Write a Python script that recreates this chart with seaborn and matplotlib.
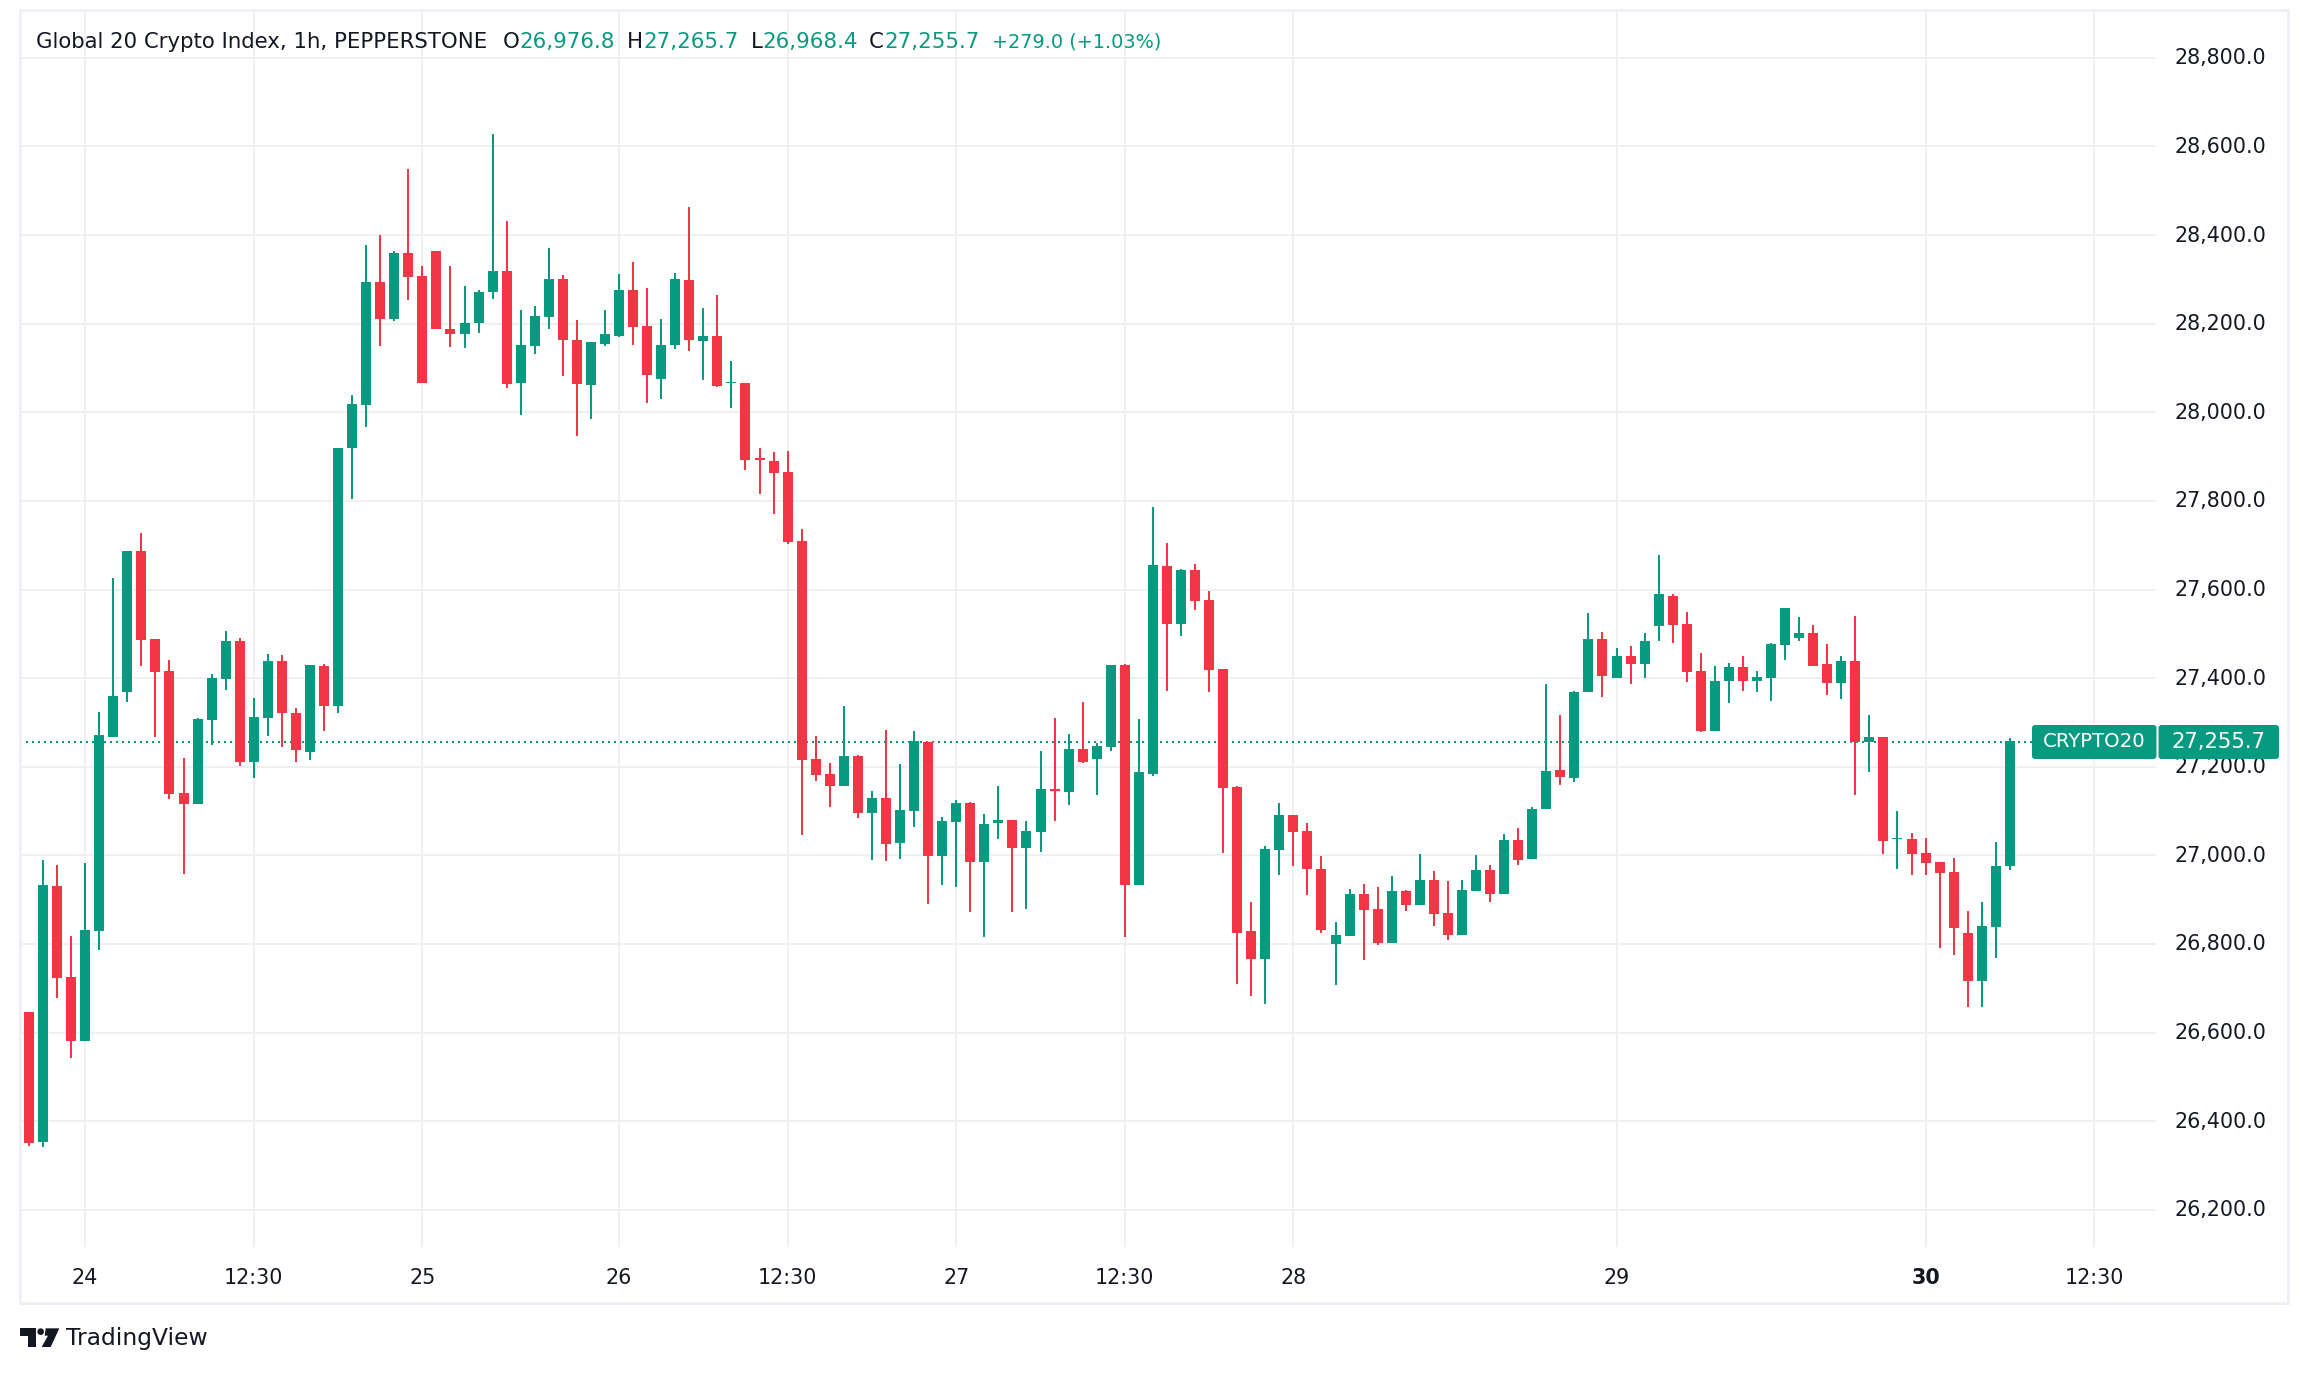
import pandas as pd
import matplotlib
matplotlib.use("Agg")
import matplotlib.pyplot as plt
import matplotlib.transforms as mtrans
import seaborn as sns
from matplotlib.patches import FancyBboxPatch, Rectangle, Polygon, Circle

W, H = 2308, 1374
UP = "#089981"
DOWN = "#f23645"
INK = "#131722"
GRID = "#f0f0f3"
FRAME = "#eef0f6"
FONT = "DejaVu Sans"

last_price = 27255.7

opens = [26646, 26352, 26931, 26725, 26580, 26829, 27266, 27369, 27687, 27488, 27416, 27141,
         27117, 27305, 27398, 27483, 27211, 27311, 27439, 27322, 27234, 27427, 27336, 27919,
         28017, 28293, 28211, 28360, 28307, 28363, 28188, 28177, 28201, 28271, 28320, 28066,
         28150, 28216, 28300, 28164, 28061, 28155, 28173, 28275, 28194, 28076, 28151, 28298,
         28162, 28173, 28065, 28067, 27896, 27890, 27866, 27709, 27217, 27184, 27157, 27224,
         27096, 27130, 27028, 27101, 27255, 26999, 27076, 27118, 26985, 27073, 27080, 27017,
         27053, 27150, 27143, 27241, 27217, 27245, 27430, 26933, 27184, 27653, 27522, 27644,
         27576, 27421, 27154, 26830, 26767, 27013, 27090, 27055, 26970, 26800, 26818, 26913,
         26879, 26803, 26920, 26888, 26944, 26870, 26821, 26920, 26967, 26913, 27035, 26991,
         27104, 27193, 27174, 27368, 27489, 27401, 27449, 27432, 27517, 27586, 27523, 27415,
         27281, 27393, 27426, 27393, 27401, 27474, 27491, 27501, 27431, 27390, 27438, 27255,
         27268, 27036, 27038, 27006, 26986, 26963, 26825, 26717, 26839, 26975]
highs = [26646, 26989, 26978, 26818, 26983, 27324, 27625, 27687, 27727, 27488, 27440, 27220,
         27311, 27410, 27506, 27490, 27355, 27455, 27452, 27332, 27430, 27433, 27920, 28038,
         28378, 28401, 28365, 28549, 28331, 28363, 28331, 28284, 28277, 28629, 28431, 28232,
         28241, 28371, 28309, 28208, 28158, 28232, 28313, 28340, 28280, 28211, 28315, 28464,
         28236, 28264, 28115, 28067, 27920, 27911, 27912, 27737, 27270, 27209, 27337, 27227,
         27146, 27283, 27206, 27281, 27255, 27087, 27125, 27121, 27094, 27157, 27080, 27077,
         27235, 27311, 27274, 27346, 27254, 27430, 27432, 27308, 27786, 27705, 27646, 27658,
         27597, 27421, 27157, 26895, 27021, 27118, 27091, 27073, 26999, 26850, 26925, 26936,
         26929, 26954, 26922, 27003, 26965, 26943, 26944, 27001, 26978, 27048, 27062, 27110,
         27386, 27317, 27372, 27548, 27505, 27467, 27473, 27502, 27679, 27590, 27550, 27457,
         27428, 27435, 27451, 27417, 27480, 27559, 27539, 27519, 27476, 27451, 27541, 27317,
         27268, 27099, 27051, 27040, 26986, 26993, 26875, 26895, 27031, 27265]
lows = [26343, 26341, 26677, 26542, 26580, 26786, 27266, 27346, 27427, 27268, 27128, 26958,
        27117, 27248, 27373, 27201, 27174, 27270, 27244, 27210, 27216, 27281, 27322, 27805,
        27967, 28150, 28207, 28253, 28066, 28188, 28147, 28145, 28179, 28255, 28055, 27994,
        28131, 28188, 28083, 27946, 27984, 28150, 28169, 28153, 28020, 28031, 28143, 28138,
        28074, 28056, 28009, 27869, 27816, 27771, 27702, 27047, 27168, 27109, 27157, 27084,
        26990, 26988, 26992, 27064, 26891, 26933, 26929, 26873, 26816, 27037, 26873, 26879,
        27007, 27077, 27114, 27209, 27136, 27235, 26816, 26933, 27179, 27371, 27495, 27554,
        27369, 27006, 26710, 26683, 26665, 26956, 26976, 26911, 26825, 26708, 26818, 26764,
        26798, 26803, 26875, 26888, 26841, 26809, 26821, 26920, 26895, 26913, 26978, 26991,
        27104, 27159, 27165, 27368, 27357, 27401, 27387, 27401, 27483, 27479, 27392, 27279,
        27281, 27344, 27372, 27369, 27348, 27442, 27483, 27428, 27362, 27354, 27137, 27189,
        27004, 26970, 26956, 26956, 26791, 26776, 26658, 26658, 26769, 26968]
closes = [26350, 26933, 26723, 26580, 26832, 27272, 27360, 27687, 27486, 27413, 27138, 27117,
          27308, 27400, 27483, 27211, 27313, 27439, 27322, 27237, 27430, 27336, 27920, 28018,
          28293, 28211, 28360, 28305, 28066, 28188, 28177, 28202, 28271, 28320, 28064, 28151,
          28218, 28300, 28163, 28064, 28158, 28176, 28275, 28192, 28084, 28153, 28300, 28164,
          28173, 28060, 28069, 27892, 27892, 27863, 27708, 27216, 27182, 27157, 27224, 27096,
          27130, 27026, 27102, 27259, 26999, 27077, 27118, 26985, 27071, 27080, 27017, 27055,
          27150, 27146, 27241, 27211, 27247, 27430, 26933, 27189, 27655, 27522, 27644, 27574,
          27418, 27153, 26825, 26767, 27014, 27091, 27053, 26970, 26832, 26821, 26913, 26877,
          26803, 26920, 26888, 26944, 26868, 26821, 26922, 26967, 26913, 27035, 26990, 27105,
          27191, 27176, 27369, 27489, 27404, 27449, 27432, 27483, 27589, 27519, 27413, 27281,
          27394, 27426, 27393, 27403, 27476, 27559, 27501, 27428, 27390, 27438, 27255, 27268,
          27033, 27039, 27004, 26983, 26961, 26836, 26717, 26841, 26977, 27258]

tick_bars = [4, 16, 28, 42, 54, 66, 78, 90, 113, 135, 147]
tick_labels = ["24", "12:30", "25", "26", "12:30", "27", "12:30", "28", "29", "30", "12:30"]
price_ticks = [26200, 26400, 26600, 26800, 27000, 27200, 27400, 27600, 27800, 28000, 28200, 28400, 28600, 28800]


def fx(px):
    return px / W


def fy(py):
    return 1 - py / H


def pts(px):
    # pixels to points at dpi 100
    return px * 0.72


sns.set_theme(style="white")
plt.rcParams["font.family"] = [FONT]

candles = pd.DataFrame({"bar": range(len(opens)), "open": opens, "high": highs,
                        "low": lows, "close": closes})
candles["dir"] = ["up" if c >= o else "down" for o, c in zip(candles["open"], candles["close"])]
wicks = candles.melt(id_vars=["bar", "dir"], value_vars=["high", "low"], value_name="price")
bodies = candles.melt(id_vars=["bar", "dir"], value_vars=["open", "close"], value_name="price")
palette = {"up": UP, "down": DOWN}

fig = plt.figure(figsize=(W / 100, H / 100), dpi=100, facecolor="white")
ax = fig.add_axes([fx(20), fy(1247), fx(2156 - 20), (1247 - 10) / H])

ax.axhline(last_price, color=UP, lw=pts(2), ls=(0, (1, 2)), zorder=1.5, snap=True)
sns.lineplot(data=wicks, x="bar", y="price", hue="dir", units="bar", estimator=None, sort=False,
             palette=palette, legend=False, lw=pts(2), ax=ax, zorder=2, solid_capstyle="butt")
sns.lineplot(data=bodies, x="bar", y="price", hue="dir", units="bar", estimator=None, sort=False,
             palette=palette, legend=False, lw=pts(10), ax=ax, zorder=3, solid_capstyle="butt")

ax.set_xlim(-0.64, 151.4)
ax.set_ylim(26116, 28908)
ax.set_xticks(tick_bars, tick_labels)
ax.set_yticks(price_ticks, [f"{p:,.1f}" for p in price_ticks])
ax.yaxis.tick_right()
ax.set_xlabel("")
ax.set_ylabel("")
ax.set_axisbelow(True)
ax.grid(True, color=GRID, lw=pts(2))
ax.tick_params(axis="both", length=0, labelsize=14.9, labelcolor=INK)
ax.tick_params(axis="x", pad=pts(21))
ax.tick_params(axis="y", pad=pts(19))
ax.get_xticklabels()[9].set_fontweight("bold")
nudge = mtrans.ScaledTranslation(0, 1.5 / 100, fig.dpi_scale_trans)
for lab in ax.get_yticklabels():
    lab.set_transform(lab.get_transform() + nudge)
sns.despine(fig=fig, ax=ax, left=True, bottom=True, right=True, top=True)

# outer frame
fig.add_artist(Rectangle((fx(20), fy(1303)), fx(2288 - 20), (1303 - 10) / H, transform=fig.transFigure,
                         fill=False, ec=FRAME, lw=pts(3), zorder=1))

# header row
head = [(36, "Global 20 Crypto Index, 1h, PEPPERSTONE", INK, 15.3), (503, "O", INK, 15.3), (519, "26,976.8", UP, 15.4),
        (627, "H", INK, 15.3), (643, "27,265.7", UP, 15.4), (751, "L", INK, 15.3), (762, "26,968.4", UP, 15.4),
        (869, "C", INK, 15.3), (884, "27,255.7", UP, 15.4), (992, "+279.0 (+1.03%)", UP, 13.9)]
for hx, label, colour, size in head:
    fig.text(fx(hx), fy(41.5), label, color=colour, fontsize=size, ha="left", va="center")

# last price tags
for x0, x1, label, size in [(2032, 2156.5, "CRYPTO20", 14.2), (2158.5, 2279, f"{last_price:,.1f}", 15.2)]:
    fig.add_artist(FancyBboxPatch((x0 + 3, H - 759 + 3), x1 - x0 - 6, 28, boxstyle="round,pad=3",
                                  transform=None, fc=UP, ec="none", zorder=5))
    fig.text(fx((x0 + x1) / 2), fy(741.5), label, color="white", fontsize=size,
             ha="center", va="center", zorder=6)


# TradingView mark
def logo(zx, zy):
    return (10 + zx / 3, H - (1315 + zy / 3))


fig.add_artist(Polygon([logo(*p) for p in [(30, 40), (78, 40), (78, 96), (55, 96), (55, 62), (30, 62)]],
                       transform=None, fc=INK, ec="none"))
fig.add_artist(Circle(logo(92, 50), 10 / 3, transform=None, fc=INK, ec="none"))
fig.add_artist(Polygon([logo(*p) for p in [(107, 40), (148, 40), (122, 96), (95, 96), (114, 62), (104, 62)]],
                       transform=None, fc=INK, ec="none"))
fig.text(fx(66), fy(1339), "TradingView", color=INK, fontsize=16.8, ha="left", va="center")

fig.savefig("out.png", dpi=100, facecolor="white")
